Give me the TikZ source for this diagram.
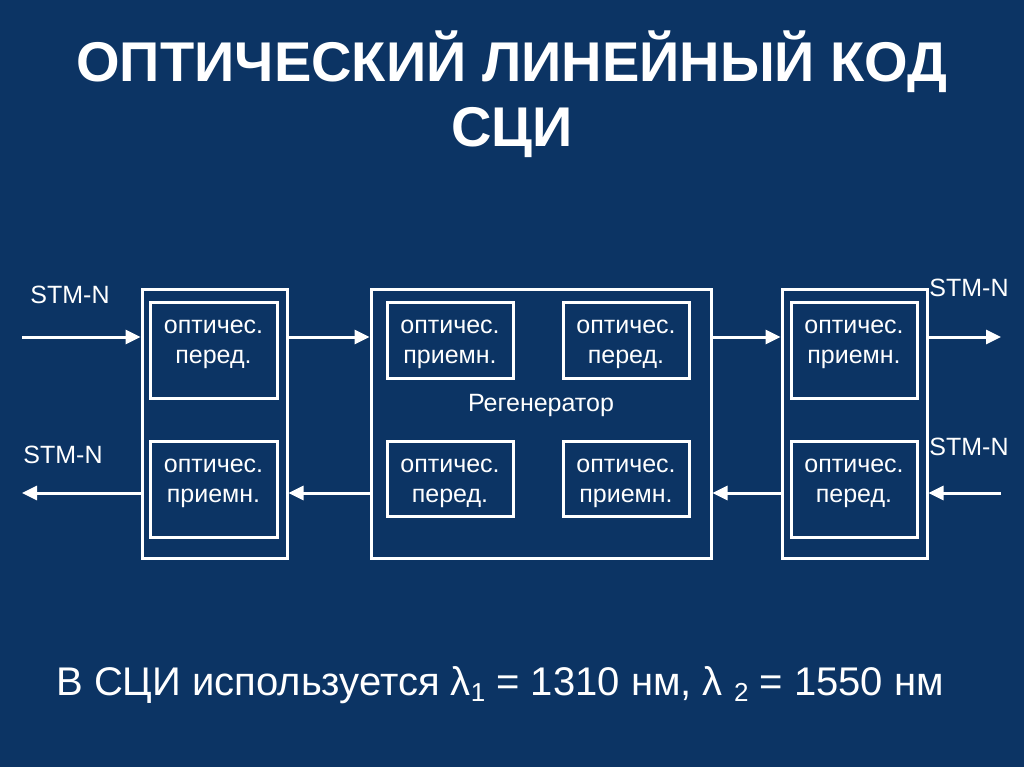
\documentclass[tikz,border=0pt]{standalone}
\usepackage{fontspec}
\setmainfont{Liberation Sans}
\usetikzlibrary{arrows.meta}
\definecolor{bg}{RGB}{12,52,100}
\tikzset{
  box/.style={draw=white, line width=3pt, inner sep=0pt},
  boxtext/.style={text=white, font=\fontsize{25}{30}\selectfont, align=center, anchor=north, inner sep=0pt},
  arr/.style={draw=white, line width=3pt, -{Triangle[length=15pt,width=14pt]}},
  stm/.style={text=white, font=\fontsize{25}{30}\selectfont, inner sep=0pt},
  title/.style={text=white, font=\fontsize{56}{64}\selectfont\bfseries, anchor=base, inner sep=0pt}
}
\begin{document}
\begin{tikzpicture}[x=1pt,y=-1pt]
\fill[bg] (0,0) rectangle (1024,767);
\useasboundingbox (0,0) rectangle (1024,767);
% title
\node[title] (t1) at (512,82) {ОПТИЧЕСКИЙ ЛИНЕЙНЫЙ КОД};
\node[title] (t2) at (512,147) {СЦИ};
% outer boxes
\node[box, minimum width=145pt, minimum height=269pt] (L) at (214.5,423.5) {};
\node[box, minimum width=340pt, minimum height=269pt] (M) at (541,423.5) {};
\node[box, minimum width=145pt, minimum height=269pt] (R) at (854.5,423.5) {};
% inner boxes
\node[box, minimum width=127pt, minimum height=96pt] (L1) at (213.5,350) {};
\node[box, minimum width=127pt, minimum height=96pt] (L2) at (213.5,489) {};
\node[box, minimum width=126pt, minimum height=76pt] (M1) at (450,340) {};
\node[box, minimum width=126pt, minimum height=76pt] (M2) at (626,340) {};
\node[box, minimum width=126pt, minimum height=75pt] (M3) at (450,478.5) {};
\node[box, minimum width=126pt, minimum height=75pt] (M4) at (626,478.5) {};
\node[box, minimum width=126pt, minimum height=96pt] (R1) at (854,350) {};
\node[box, minimum width=126pt, minimum height=96pt] (R2) at (854,489) {};
% texts
\node[boxtext] (L1t) at ([yshift=-12pt]L1.north) {\strut оптичес.\\\strut перед.};
\node[boxtext] (L2t) at ([yshift=-12pt]L2.north) {\strut оптичес.\\\strut приемн.};
\node[boxtext] (M1t) at ([yshift=-12pt]M1.north) {\strut оптичес.\\\strut приемн.};
\node[boxtext] (M2t) at ([yshift=-12pt]M2.north) {\strut оптичес.\\\strut перед.};
\node[boxtext] (M3t) at ([yshift=-12pt]M3.north) {\strut оптичес.\\\strut перед.};
\node[boxtext] (M4t) at ([yshift=-12pt]M4.north) {\strut оптичес.\\\strut приемн.};
\node[boxtext] (R1t) at ([yshift=-12pt]R1.north) {\strut оптичес.\\\strut приемн.};
\node[boxtext] (R2t) at ([yshift=-12pt]R2.north) {\strut оптичес.\\\strut перед.};
\node[stm] (reg) at (541,405) {Регенератор};
% STM labels
\node[stm] (s1) at (70,295) {STM-N};
\node[stm] (s2) at (63,455) {STM-N};
\node[stm] (s3) at (969,288) {STM-N};
\node[stm] (s4) at (969,447) {STM-N};
% free ends
\coordinate (inL) at (22,337);
\coordinate (outL) at (22,493);
\coordinate (outR) at (1001,337);
\coordinate (inR) at (1001,493);
% arrows
\draw[arr] (inL) -- (inL -| L.west);
\draw[arr] (L.east |- inL) -- (M.west |- inL);
\draw[arr] (M.east |- inL) -- (R.west |- inL);
\draw[arr] (R.east |- outR) -- (outR);
\draw[arr] (L.west |- outL) -- (outL);
\draw[arr] (M.west |- outL) -- (L.east |- outL);
\draw[arr] (R.west |- outL) -- (M.east |- outL);
\draw[arr] (inR) -- (R.east |- inR);
% bottom text
\node[text=white, font=\fontsize{40}{48}\selectfont, anchor=base, inner sep=0pt] (bt) at (500,695) {В СЦИ используется λ\raisebox{-0.3ex}{\fontsize{26}{30}\selectfont 1} = 1310 нм, λ \raisebox{-0.3ex}{\fontsize{26}{30}\selectfont 2} = 1550 нм};
\end{tikzpicture}
\end{document}
